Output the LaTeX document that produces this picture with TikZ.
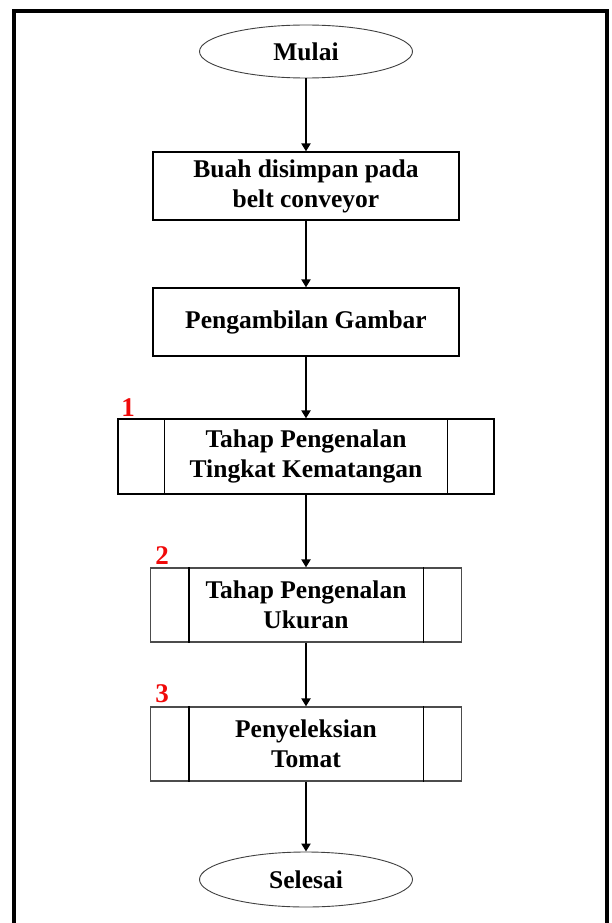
\documentclass[tikz,border=0pt]{standalone}
\usepackage{fontspec}
\setmainfont{Liberation Serif}
\usetikzlibrary{shapes.geometric,arrows.meta}
\definecolor{numred}{RGB}{240,10,10}
\tikzset{
  txt/.style={font=\fontsize{25.5}{30}\selectfont\bfseries, align=center},
  terminal/.style={txt, ellipse, draw=black!75, line width=0.9pt, inner sep=0pt},
  procbox/.style={txt, rectangle, draw=black, line width=1.2pt, inner sep=0pt},
  subproc/.style={procbox, draw=black!70},
  flow/.style={line width=2.6pt, -{Triangle[length=8pt,width=9pt]}},
  stepnum/.style={font=\fontsize{27}{30}\selectfont\bfseries, text=numred, inner sep=0pt},
  frame/.style={line width=4pt}
}
\begin{document}
\begin{tikzpicture}[x=1pt,y=-1pt]
  \useasboundingbox (0,0) rectangle (612,923);
  \clip (0,0) rectangle (612,923);
  % outer frame, open below the page edge
  \draw[frame] (14,960) -- (14,11) -- (607,11) -- (607,960);

  % main column
  \node[terminal, minimum width=213pt, minimum height=53pt] (mulai) at (306,51.5) {Mulai};
  \node[procbox, minimum width=306pt, minimum height=68pt] (buah) at (306,186) {Buah disimpan pada\\belt conveyor};
  \node[procbox, minimum width=306pt, minimum height=68pt] (ambil) at (306,322) {Pengambilan Gambar};
  \node[procbox, minimum width=376pt, minimum height=75pt] (tahap1) at (306,456.5) {Tahap Pengenalan\\Tingkat Kematangan};
  \node[subproc, minimum width=311pt, minimum height=74pt] (tahap2) at (306,605) {Tahap Pengenalan\\Ukuran};
  \node[subproc, minimum width=311pt, minimum height=74pt] (seleksi) at (306,744) {Penyeleksian\\Tomat};
  \node[terminal, minimum width=213pt, minimum height=55pt] (selesai) at (306,879.5) {Selesai};

  % side bars of the predefined-process boxes
  \foreach \n/\d in {tahap1/47, tahap2/39, seleksi/39} {
    \draw[line width=1.2pt] ([xshift=\d pt]\n.north west) -- ([xshift=\d pt]\n.south west);
    \draw[line width=1.2pt] ([xshift=-\d pt]\n.north east) -- ([xshift=-\d pt]\n.south east);
  }

  % step numbers
  \node[stepnum] (n1) at (128,408) {1};
  \node[stepnum] (n2) at (162,556) {2};
  \node[stepnum] (n3) at (162,694) {3};

  % connectors
  \draw[flow] (mulai.south) -- (buah.north);
  \draw[flow] (buah.south) -- (ambil.north);
  \draw[flow] (ambil.south) -- (tahap1.north);
  \draw[flow] (tahap1.south) -- (tahap2.north);
  \draw[flow] (tahap2.south) -- (seleksi.north);
  \draw[flow] (seleksi.south) -- (selesai.north);
\end{tikzpicture}
\end{document}
